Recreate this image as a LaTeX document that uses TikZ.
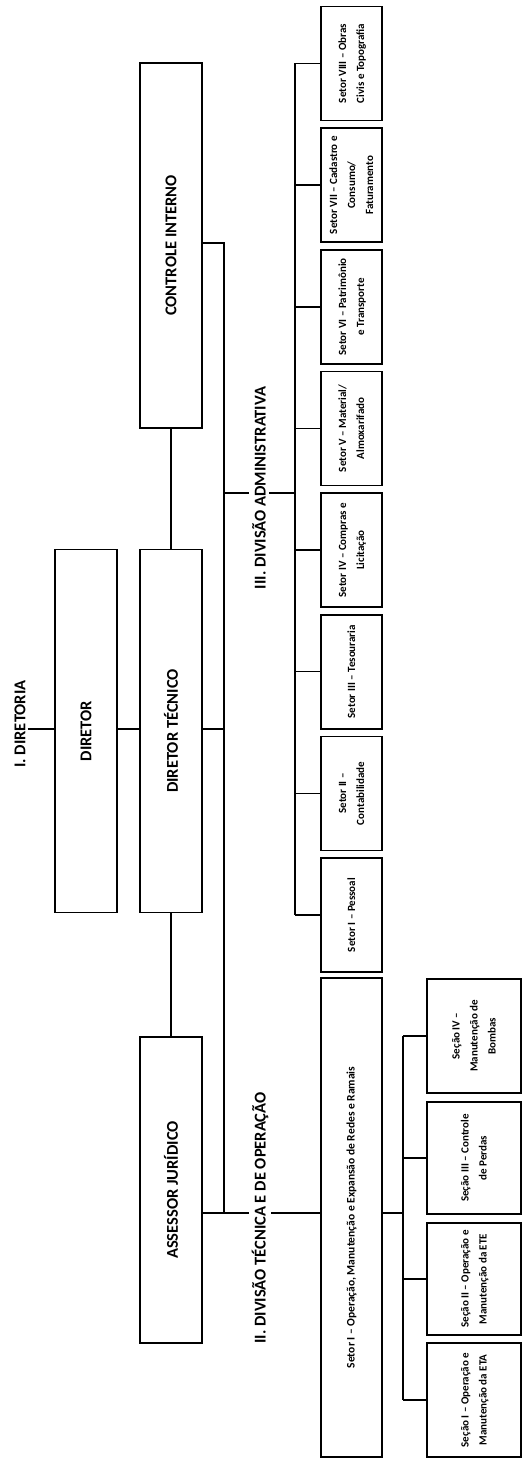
\documentclass[tikz,border=0pt]{standalone}
\usepackage{fontspec}
\setmainfont{Carlito}
\tikzset{
  box/.style={draw, line width=1.7pt, inner sep=0pt, fill=white},
  conn/.style={line width=1.5pt},
  lbl/.style={fill=white, inner sep=3pt},
}
\newcommand{\bigt}[1]{\rotatebox{90}{\fontsize{16.5}{19}\selectfont\bfseries #1}}
\newcommand{\smt}[1]{\rotatebox{90}{\fontsize{11}{18}\selectfont\bfseries\begin{tabular}{@{}c@{}}#1\end{tabular}}}
\newcommand{\smtl}[1]{\rotatebox{90}{\fontsize{11.5}{18}\selectfont\bfseries #1}}
\begin{document}
\begin{tikzpicture}[x=1pt,y=-1pt]
\useasboundingbox (0,0) rectangle (524,1463);
\fill[white] (0,0) rectangle (524,1463);

% top level
\node[box, minimum width=62pt, minimum height=365pt] (ci)  at (171,245.5) {\bigt{CONTROLE INTERNO}};
\node[box, minimum width=62pt, minimum height=363pt] (dir) at (86,731)    {\bigt{DIRETOR}};
\node[box, minimum width=62pt, minimum height=363pt] (dt)  at (171,731)   {\bigt{DIRETOR TÉCNICO}};
\node[box, minimum width=62pt, minimum height=306pt] (aj)  at (171,1190)  {\bigt{ASSESSOR JURÍDICO}};
\node[inner sep=2pt] (dia) at (20,724) {\bigt{I. DIRETORIA}};

% administrative sectors
\node[box, minimum width=61pt, minimum height=114pt] (s8) at (351.5,63.5)  {\smt{Setor VIII -- Obras\\Civis e Topografia}};
\node[box, minimum width=61pt, minimum height=114pt] (s7) at (351.5,185.1) {\smt{Setor VII -- Cadastro e\\Consumo/\\Faturamento}};
\node[box, minimum width=61pt, minimum height=114pt] (s6) at (351.5,306.8) {\smt{Setor VI -- Patrimônio\\e Transporte}};
\node[box, minimum width=61pt, minimum height=114pt] (s5) at (351.5,428.4) {\smt{Setor V -- Material/\\Almoxarifado}};
\node[box, minimum width=61pt, minimum height=114pt] (s4) at (351.5,550.1) {\smt{Setor IV -- Compras e\\Licitação}};
\node[box, minimum width=61pt, minimum height=114pt] (s3) at (351.5,671.7) {\smt{Setor III -- Tesouraria}};
\node[box, minimum width=61pt, minimum height=114pt] (s2) at (351.5,793.4) {\smt{Setor II --\\Contabilidade}};
\node[box, minimum width=61pt, minimum height=114pt] (s1) at (351.5,915)   {\smt{Setor I -- Pessoal}};

% technical division
\node[box, minimum width=61pt, minimum height=479pt] (op) at (351.5,1217.5) {\smtl{Setor I -- Operação, Manutenção e Expansão de Redes e Ramais}};
\node[box, minimum width=94pt, minimum height=114pt] (q4) at (474,1036)   {\smt{Seção IV --\\Manutenção de\\Bombas}};
\node[box, minimum width=94pt, minimum height=112pt] (q3) at (474,1158)   {\smt{Seção III -- Controle\\de Perdas}};
\node[box, minimum width=94pt, minimum height=112pt] (q2) at (474,1279)   {\smt{Seção II -- Operação e\\Manutenção da ETE}};
\node[box, minimum width=94pt, minimum height=114pt] (q1) at (474,1400)   {\smt{Seção I -- Operação e\\Manutenção da ETA}};

% helper coordinates
\coordinate (m)    at (0,729);
\coordinate (vtop) at (224,243);
\coordinate (vbot) at (224,1213);
\coordinate (a3)   at (224,493);
\coordinate (ab)   at (295,493);
\coordinate (sb)   at (403,1213);

% connectors
\draw[conn] (dia.east |- m) -- (dir.west |- m);
\draw[conn] (dir.east |- m) -- (dt.west |- m);
\draw[conn] (dt.east |- m) -- (vtop |- m);
\draw[conn] (ci.south) -- (dt.north);
\draw[conn] (dt.south) -- (aj.north);
\draw[conn] (ci.east |- vtop) -- (vtop) -- (vbot) -- (op.west |- vbot);
\draw[conn] (aj.east |- vbot) -- (vbot);
\draw[conn] (a3) -- (ab);
\draw[conn] (ab |- s8.west) -- (ab |- s1.west);
\foreach \s in {s8,s7,s6,s5,s4,s3,s2,s1} { \draw[conn] (ab |- \s.west) -- (\s.west); }
\draw[conn] (op.east |- sb) -- (sb);
\draw[conn] (sb |- q4.west) -- (sb |- q1.west);
\foreach \s in {q4,q3,q2,q1} { \draw[conn] (sb |- \s.west) -- (\s.west); }

% division labels
\node[lbl] (l3) at (259,488)  {\bigt{III. DIVISÃO ADMINISTRATIVA}};
\node[lbl] (l2) at (260,1218) {\bigt{II. DIVISÃO TÉCNICA E DE OPERAÇÃO}};
\end{tikzpicture}
\end{document}
